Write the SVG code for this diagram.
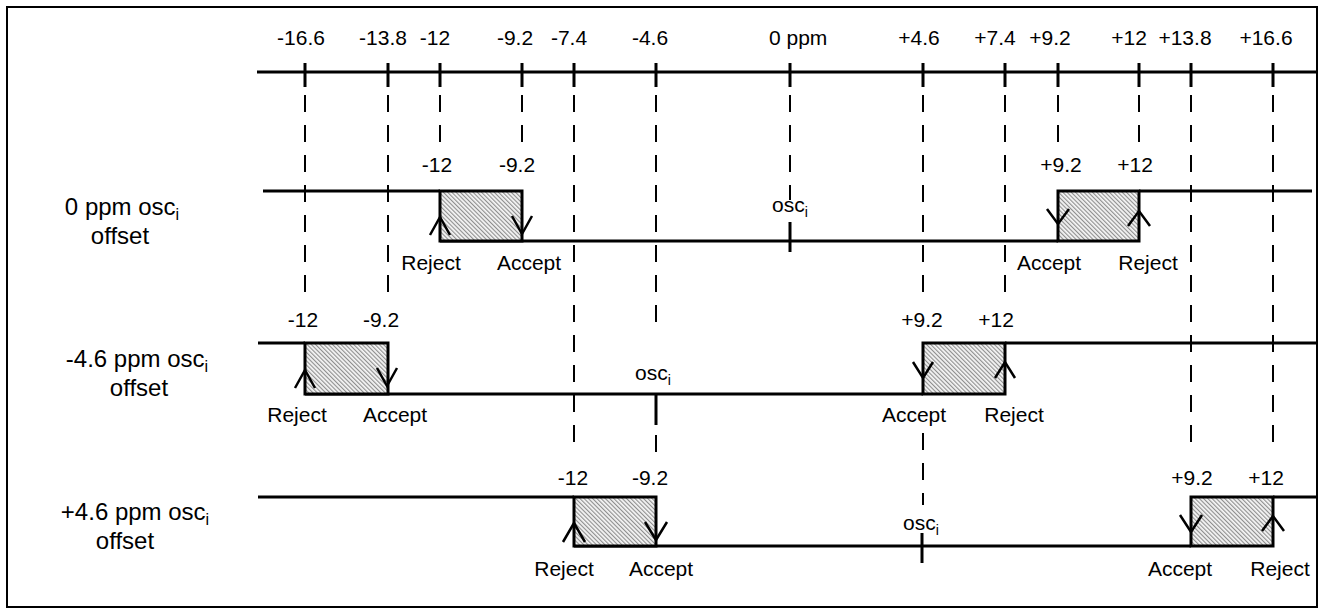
<svg xmlns="http://www.w3.org/2000/svg" width="1324" height="614" viewBox="0 0 1324 614">
<style>
.ln{stroke:#000;stroke-width:3;fill:none}
.tk{stroke:#000;stroke-width:3;fill:none}
.ds{stroke:#000;stroke-width:2;stroke-dasharray:17 13;fill:none}
.ch{stroke:#000;stroke-width:2.5;fill:none}
.bx{stroke:#000;stroke-width:3;fill:url(#hatch)}
text{font-family:"Liberation Sans",Arial,sans-serif;font-size:21px;fill:#000}
.c{text-anchor:middle}
.lb{font-size:24px}
.sub{font-size:14px}
.lb .sub{font-size:16px}
</style>
<defs>
<pattern id="hatch" patternUnits="userSpaceOnUse" width="3" height="3" patternTransform="rotate(-45)">
<rect width="3" height="3" fill="#f6f6f6"/>
<line x1="0.6" y1="0" x2="0.6" y2="3" stroke="#8a8a8a" stroke-width="1.1"/>
</pattern>
</defs>
<rect x="7" y="7" width="1310" height="600" fill="#fff" stroke="#000" stroke-width="2"/>

<g id="axis">
<path class="ln" d="M257 72H1318"/>
<path class="tk" d="M305 63V87M388 63V87M440 63V87M522 63V87M574 63V87M656 63V87M790 63V87M923 63V87M1005 63V87M1058 63V87M1139 63V87M1191 63V87M1273 63V87"/>
<text class="c" x="301" y="45">-16.6</text>
<text class="c" x="383" y="45">-13.8</text>
<text class="c" x="435" y="45">-12</text>
<text class="c" x="515" y="45">-9.2</text>
<text class="c" x="569" y="45">-7.4</text>
<text class="c" x="650" y="45">-4.6</text>
<text x="769" y="45">0 ppm</text>
<text class="c" x="919" y="45">+4.6</text>
<text class="c" x="995" y="45">+7.4</text>
<text class="c" x="1050" y="45">+9.2</text>
<text class="c" x="1129" y="45">+12</text>
<text class="c" x="1185" y="45">+13.8</text>
<text class="c" x="1266" y="45">+16.6</text>
</g>

<g id="connectors">
<path class="ds" d="M305 95V300M388 95V300M440 95V145M522 95V145M574 95V452M656 95V330M656 435V452M790 95V200M923 95V300M923 433V505M1005 95V300M1058 95V145M1139 95V145M1191 95V452M1273 95V452"/>
</g>

<g id="row1">
<text class="lb c" x="122" y="215">0 ppm osc<tspan class="sub" dy="5">i</tspan></text>
<text class="lb c" x="120" y="244">offset</text>
<path class="ln" d="M263 191H440M440 241H1058M1139 191H1312"/>
<rect class="bx" x="440" y="191" width="82" height="50"/>
<rect class="bx" x="1058" y="191" width="81" height="50"/>
<path class="tk" d="M790 222V252"/>
<path class="ch" d="M430 235L440 217L450 235M512 216L522 234L532 216M1047 209L1058 224L1069 209M1128 226L1139 211L1150 226"/>
<text class="c" x="437" y="172">-12</text>
<text class="c" x="517" y="172">-9.2</text>
<text class="c" x="1061" y="172">+9.2</text>
<text class="c" x="1135" y="172">+12</text>
<text x="772" y="212">osc<tspan class="sub" dy="5">i</tspan></text>
<text class="c" x="431" y="270">Reject</text>
<text class="c" x="529" y="270">Accept</text>
<text class="c" x="1049" y="270">Accept</text>
<text class="c" x="1148" y="270">Reject</text>
</g>

<g id="row2">
<text class="lb c" x="137" y="367">-4.6 ppm osc<tspan class="sub" dy="5">i</tspan></text>
<text class="lb c" x="139" y="396">offset</text>
<path class="ln" d="M258 343H305M305 394H923M1005 343H1318"/>
<rect class="bx" x="305" y="343" width="83" height="51"/>
<rect class="bx" x="923" y="343" width="82" height="51"/>
<path class="tk" d="M656 394V425"/>
<path class="ch" d="M295 388L305 370L315 388M377 368L387 386L397 368M913 362L923 378L933 362M995 378L1005 362L1015 378"/>
<text class="c" x="303" y="327">-12</text>
<text class="c" x="381" y="327">-9.2</text>
<text class="c" x="922" y="327">+9.2</text>
<text class="c" x="996" y="327">+12</text>
<text x="635" y="380">osc<tspan class="sub" dy="5">i</tspan></text>
<text class="c" x="297" y="422">Reject</text>
<text class="c" x="395" y="422">Accept</text>
<text class="c" x="914" y="422">Accept</text>
<text class="c" x="1014" y="422">Reject</text>
</g>

<g id="row3">
<text class="lb c" x="135" y="520">+4.6 ppm osc<tspan class="sub" dy="5">i</tspan></text>
<text class="lb c" x="125" y="549">offset</text>
<path class="ln" d="M258 497H574M574 546H1191M1273 497H1316"/>
<rect class="bx" x="574" y="497" width="82" height="49"/>
<rect class="bx" x="1191" y="497" width="82" height="49"/>
<path class="tk" d="M922 533V563"/>
<path class="ch" d="M563 542L574 523L585 542M645 522L656 540L667 522M1180 515L1191 532L1202 515M1262 531L1273 516L1284 531"/>
<text class="c" x="573" y="485">-12</text>
<text class="c" x="650" y="485">-9.2</text>
<text class="c" x="1192" y="485">+9.2</text>
<text class="c" x="1266" y="485">+12</text>
<text x="903" y="530">osc<tspan class="sub" dy="5">i</tspan></text>
<text class="c" x="564" y="576">Reject</text>
<text class="c" x="661" y="576">Accept</text>
<text class="c" x="1180" y="576">Accept</text>
<text class="c" x="1280" y="576">Reject</text>
</g>
</svg>
